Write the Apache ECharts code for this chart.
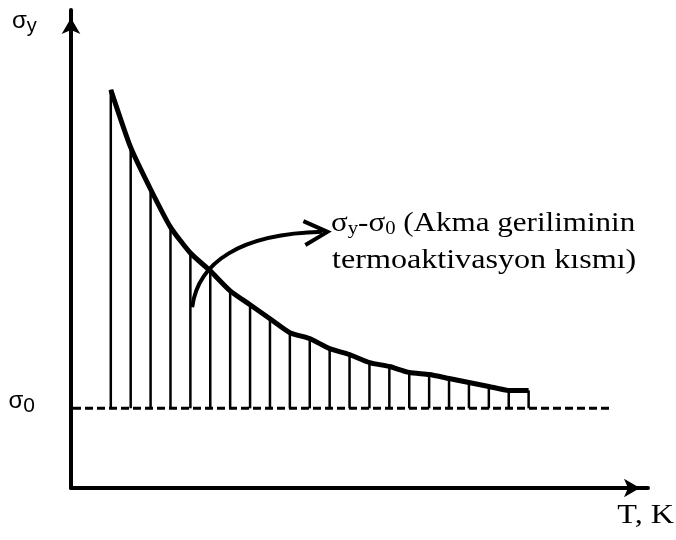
<!DOCTYPE html>
<html>
<head>
<meta charset="utf-8">
<script src="https://cdn.jsdelivr.net/npm/echarts@6/dist/echarts.min.js"></script>
<style>
  html, body { margin: 0; padding: 0; background: #fff; }
  #chart { width: 676px; height: 540px; }
</style>
</head>
<body>
<div id="chart"></div>
<script>
// Temperatures (arbitrary units) where the hatch lines are drawn
const temperatures = [2, 3, 4, 5, 6, 7, 8, 9, 10, 11, 12, 13, 14, 15, 16, 17, 18, 19, 20, 21, 22, 23];
// Yield stress σy at those temperatures
const yieldStress = [100, 85.5, 75, 65.5, 59, 54.5, 49.5, 46, 42.5, 39, 37.5, 35, 33.5, 31.5, 30.5, 29, 28.5, 27.5, 26.5, 25.5, 24.5, 24.5];
// Athermal part of the yield stress, σ0, and the T span of its dashed line
const sigma0 = 20;
const sigma0Span = [0.1, 27.1];
// Axis extents
const tMax = 29;
const sigmaMax = 120;
// Pointer to the thermally activated part: cubic bezier (start, c1, c2, end), then arrowhead (wing, tip, wing)
const pointerCurve = [[6.09, 45.4], [6.39, 56.7], [8.51, 63.8], [12.64, 64.3]];
const pointerHead = [[11.68, 67.0], [12.89, 64.3], [11.78, 61.0]];

const chart = echarts.init(document.getElementById('chart'), null, { renderer: 'canvas' });

const serif = 'Liberation Serif';
const sans = 'Liberation Sans';

chart.setOption({
  animation: false,
  backgroundColor: '#fff',
  grid: { left: 71, right: 28, top: 10, bottom: 52, containLabel: false },
  xAxis: {
    type: 'value', min: 0, max: tMax,
    splitLine: { show: false }, axisTick: { show: false }, axisLabel: { show: false },
    axisLine: {
      show: true, onZero: false,
      symbol: ['none', 'arrow'], symbolSize: [14, 16], symbolOffset: [0, -8],
      lineStyle: { color: '#000', width: 4 }
    }
  },
  yAxis: {
    type: 'value', min: 0, max: sigmaMax,
    splitLine: { show: false }, axisTick: { show: false },
    axisLine: {
      show: true, onZero: false,
      symbol: ['none', 'arrow'], symbolSize: [14, 16], symbolOffset: [0, -8],
      lineStyle: { color: '#000', width: 4 }
    },
    axisLabel: {
      show: true,
      customValues: [sigma0],
      margin: 36,
      formatter: () => '{s|σ}{sub|0}',
      padding: [0, 0, 14, 0],
      rich: {
        s: { fontFamily: sans, fontSize: 24, color: '#000' },
        sub: { fontFamily: sans, fontSize: 21, color: '#000', padding: [10, 0, 0, 0] }
      }
    }
  },
  series: [
    {
      // σ0 level
      type: 'line',
      data: [[sigma0Span[0], sigma0], [sigma0Span[1], sigma0]],
      symbol: 'none',
      lineStyle: { color: '#000', width: 3, type: [8, 4] },
      z: 2
    },
    {
      // hatch lines from σ0 up to σy
      type: 'custom',
      data: temperatures.map((t, i) => [t, yieldStress[i]]),
      renderItem: (params, api) => {
        const top = api.coord([api.value(0), api.value(1)]);
        const base = api.coord([api.value(0), sigma0]);
        return {
          type: 'line',
          shape: { x1: top[0], y1: top[1], x2: base[0], y2: base[1] },
          style: { stroke: '#000', lineWidth: 2.5 }
        };
      },
      z: 3
    },
    {
      // σy(T)
      type: 'line',
      data: temperatures.map((t, i) => [t, yieldStress[i]]),
      symbol: 'none',
      smooth: 0.2,
      lineStyle: { color: '#000', width: 5 },
      z: 4
    },
    {
      // pointer to the label
      type: 'custom',
      data: [pointerCurve[0]],
      renderItem: (params, api) => {
        const c = pointerCurve.map(p => api.coord(p));
        const h = pointerHead.map(p => api.coord(p));
        return {
          type: 'group',
          children: [
            {
              type: 'bezierCurve',
              shape: {
                x1: c[0][0], y1: c[0][1],
                cpx1: c[1][0], cpy1: c[1][1],
                cpx2: c[2][0], cpy2: c[2][1],
                x2: c[3][0], y2: c[3][1]
              },
              style: { stroke: '#000', lineWidth: 4, fill: null }
            },
            {
              type: 'polyline',
              shape: { points: h },
              style: { stroke: '#000', lineWidth: 4, fill: null, lineJoin: 'miter' }
            }
          ]
        };
      },
      z: 5
    }
  ],
  graphic: [
    {
      type: 'text', left: 12, top: 9,
      style: {
        text: '{s|σ}{sub|y}',
        rich: {
          s: { fontFamily: sans, fontSize: 24, fill: '#000' },
          sub: { fontFamily: sans, fontSize: 20, fill: '#000', padding: [10, 0, 0, 0] }
        }
      }
    },
    {
      type: 'text', left: 331, top: 210, scaleX: 1.15,
      style: {
        text: '{s|σ}{sub|y}{t|-}{s|σ}{sub|0}{t| (Akma geriliminin}',
        rich: {
          t: { fontFamily: serif, fontSize: 27, fill: '#000', lineHeight: 34 },
          s: { fontFamily: serif, fontSize: 27, fill: '#000', lineHeight: 34 },
          sub: { fontFamily: serif, fontSize: 18, fill: '#000', lineHeight: 34, padding: [10, 0, 0, 0] }
        }
      }
    },
    {
      type: 'text', left: 332, top: 247, scaleX: 1.19,
      style: { text: 'termoaktivasyon kısmı)', fontFamily: serif, fontSize: 27, fill: '#000' }
    },
    {
      type: 'text', right: 2, top: 502, scaleX: 1.15,
      style: { text: 'T, K', fontFamily: serif, fontSize: 28, fill: '#000' }
    }
  ]
});
</script>
</body>
</html>
